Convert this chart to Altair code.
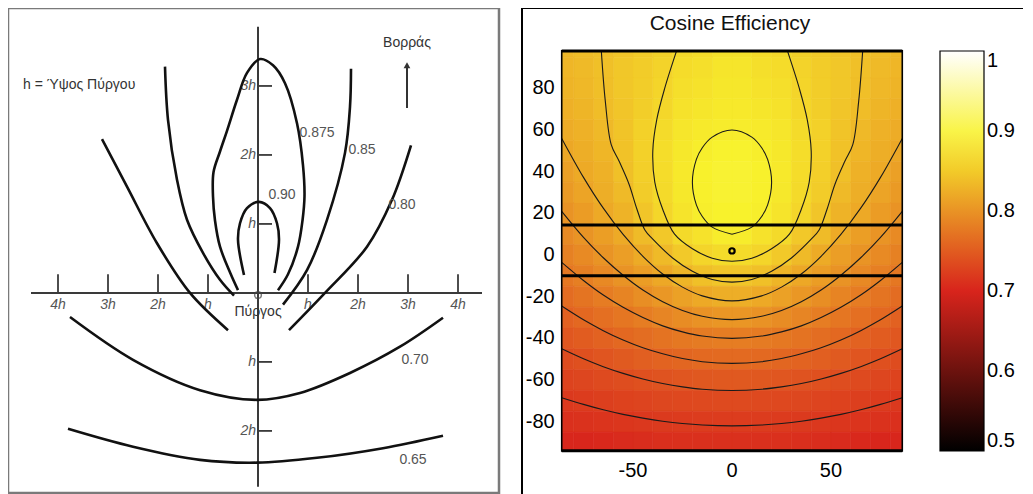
import altair as alt
import pandas as pd

FONT = "Liberation Sans"

# ================= LEFT PANEL (positions in units of tower height h) =================
x_tick_pos = [-4, -3, -2, -1, 1, 2, 3, 4]
x_tick_text = ["4h", "3h", "2h", "h", "h", "2h", "3h", "4h"]
y_tick_pos = [3, 2, 1, -1, -2]
y_tick_text = ["3h", "2h", "h", "h", "2h"]
axis_x_extent = [-4.54, 4.48]
axis_y_extent = [-2.81, 3.86]

curve_090 = [(-0.28, 0.26), (-0.40, 0.77), (-0.36, 1.01), (-0.22, 1.23), (0.02, 1.32),
             (0.24, 1.23), (0.38, 1.01), (0.42, 0.77), (0.33, 0.29)]
curve_0875 = [(-0.40, 0.04), (-0.55, 0.28), (-0.76, 0.67), (-0.86, 1.05), (-0.90, 1.40),
              (-0.89, 1.75), (-0.76, 2.05), (-0.62, 2.35), (-0.42, 2.80), (-0.22, 3.19),
              (0.04, 3.39), (0.30, 3.30), (0.54, 3.04), (0.78, 2.46), (0.90, 1.85),
              (0.93, 1.40), (0.89, 1.05), (0.80, 0.67), (0.60, 0.27), (0.40, 0.04)]
curve_085_left = [(-1.86, 3.28), (-1.80, 2.51), (-1.62, 1.64), (-1.42, 1.06),
                  (-1.10, 0.58), (-0.76, 0.19), (-0.48, -0.04)]
curve_085_right = [(0.50, -0.17), (0.98, 0.33), (1.38, 1.06), (1.74, 2.03),
                   (1.84, 2.70), (1.86, 3.25)]
curve_080_left = [(-3.12, 2.23), (-2.62, 1.54), (-2.02, 0.72), (-1.36, 0.0), (-0.60, -0.54)]
curve_080_right = [(0.62, -0.54), (1.34, 0.0), (2.18, 0.67), (2.68, 1.35), (3.06, 2.14)]
curve_070 = [(-3.76, -0.35), (-2.50, -0.97), (-1.16, -1.41), (-0.02, -1.55), (0.84, -1.45),
             (1.84, -1.16), (2.84, -0.78), (3.70, -0.36)]
curve_065 = [(-3.80, -1.97), (-2.50, -2.23), (-1.16, -2.42), (-0.02, -2.46), (1.18, -2.39),
             (2.50, -2.25), (3.70, -2.07)]

curve_label_text = ["0.90", "0.875", "0.85", "0.80", "0.70", "0.65"]
curve_label_x = [0.48, 1.18, 2.08, 2.88, 3.14, 3.10]
curve_label_y = [1.42, 2.32, 2.07, 1.28, -0.97, -2.42]

legend_text = ["h = Ύψος Πύργου"]
legend_pos = (-4.70, 3.01)
tower_text = ["Πύργος"]
tower_pos = (0.0, -0.03)
tower_label_pos = (0.0, -0.28)
north_text = ["Βορράς"]
north_pos = (2.98, 3.62)
north_arrow = (2.98, 2.68, 3.30)

# ================= RIGHT PANEL: cosine efficiency field (symmetric in x) =================
heat_x_extent = [-86, 86]
heat_y_extent = [-94, 98]
cell_x = [5, 15, 25, 35, 45, 55, 65, 75, 85]
cell_y = [100, 90, 80, 70, 60, 50, 40, 30, 20, 10, 0, -10, -20, -30, -40, -50, -60, -70, -80, -90]
eff_x05 = [0.870, 0.873, 0.875, 0.877, 0.880, 0.886, 0.889, 0.888, 0.885, 0.8795, 0.864, 0.845, 0.824, 0.802, 0.780, 0.763, 0.748, 0.734, 0.722, 0.711]
eff_x15 = [0.865, 0.868, 0.871, 0.874, 0.8775, 0.881, 0.884, 0.883, 0.881, 0.8706, 0.859, 0.840, 0.819, 0.799, 0.778, 0.762, 0.747, 0.7335, 0.722, 0.711]
eff_x25 = [0.862, 0.865, 0.868, 0.871, 0.874, 0.876, 0.877, 0.876, 0.872, 0.8635, 0.8485, 0.830, 0.812, 0.7934, 0.775, 0.7596, 0.745, 0.732, 0.721, 0.711]
eff_x35 = [0.855, 0.857, 0.859, 0.861, 0.864, 0.866, 0.865, 0.863, 0.8595, 0.8475, 0.835, 0.8186, 0.8036, 0.787, 0.771, 0.7564, 0.742, 0.731, 0.720, 0.7095]
eff_x45 = [0.850, 0.851, 0.852, 0.853, 0.855, 0.855, 0.854, 0.851, 0.845, 0.8356, 0.8209, 0.8084, 0.795, 0.780, 0.766, 0.7527, 0.7395, 0.729, 0.7183, 0.708]
eff_x55 = [0.845, 0.846, 0.846, 0.845, 0.844, 0.842, 0.840, 0.835, 0.828, 0.820, 0.810, 0.7997, 0.7866, 0.7738, 0.761, 0.7485, 0.7368, 0.7266, 0.7165, 0.706]
eff_x65 = [0.8405, 0.840, 0.839, 0.837, 0.834, 0.831, 0.827, 0.824, 0.8194, 0.8095, 0.801, 0.7903, 0.7791, 0.7674, 0.7557, 0.7442, 0.7338, 0.7242, 0.7145, 0.704]
eff_x75 = [0.837, 0.835, 0.833, 0.830, 0.827, 0.824, 0.8205, 0.815, 0.808, 0.801, 0.7918, 0.7821, 0.7717, 0.7612, 0.7505, 0.7398, 0.7307, 0.7216, 0.7125, 0.702]
eff_x85 = [0.833, 0.831, 0.829, 0.826, 0.8225, 0.8175, 0.8117, 0.806, 0.800, 0.7919, 0.7836, 0.7745, 0.765, 0.7552, 0.7454, 0.7361, 0.7276, 0.719, 0.711, 0.702]
eff_columns = [eff_x05, eff_x15, eff_x25, eff_x35, eff_x45, eff_x55, eff_x65, eff_x75, eff_x85]

# contour lines (right half; mirrored about x = 0)
contour_088 = [(0, 10), (10, 13.4), (15, 18.5), (18, 24.1), (20, 35), (18, 45.9), (15, 51.5), (10, 56.6), (0, 60)]
contour_086 = [(0, -3), (10, -1.5), (20, 3), (29, 10), (35, 22), (39, 35), (40, 50), (38, 65), (34, 80), (28, 98)]
contour_084 = [(0, -13), (10, -11.7), (20, -7.8), (30, -1.4), (40, 7.6), (44, 12), (48, 22), (52, 34), (57, 45), (61, 53), (64, 74), (66, 98)]
contour_082 = [(0, -22), (15, -19.6), (25, -15.4), (35, -9.1), (45, -0.6), (55, 9.9), (65, 22.5), (75, 37.3), (86, 56)]
contour_080 = [(0, -31), (15, -29.4), (25, -26.6), (35, -22.4), (45, -16.8), (55, -9.7), (65, -1.3), (75, 8.5), (86, 21)]
contour_078 = [(0, -40), (15, -38.9), (25, -36.9), (35, -34), (45, -30), (55, -25.1), (65, -19.2), (75, -12.2), (86, -3.5)]
contour_076 = [(0, -52), (15, -51.2), (25, -49.7), (35, -47.4), (45, -44.5), (55, -40.8), (65, -36.3), (75, -31.1), (86, -24.5)]
contour_074 = [(0, -65), (15, -64.4), (25, -63.3), (35, -61.7), (45, -59.5), (55, -56.8), (65, -53.6), (75, -49.8), (86, -45)]
contour_072 = [(0, -82), (15, -81.6), (25, -80.9), (35, -79.8), (45, -78.3), (55, -76.5), (65, -74.3), (75, -71.7), (86, -68.5)]

band_lines_y = [14.4, -10]
tower_xy = (0, 2)
x_axis_values = [-50, 0, 50]
y_axis_values = [80, 60, 40, 20, 0, -20, -40, -60, -80]
colorbar_ticks = [0.5, 0.6, 0.7, 0.8, 0.9, 1.0]
hot_stops = [0.5, 0.70, 0.885, 1.0]
hot_colors = ["#000000", "#d8241c", "#f8f22c", "#ffffff"]
title_text = ["Cosine Efficiency"]

# ---------------------------------------------------------------------------
def curve_df(name, pts):
    return pd.DataFrame({"x": [p[0] for p in pts], "y": [p[1] for p in pts],
                         "o": list(range(len(pts))), "c": name})


one = pd.DataFrame({"k": [0]})

# ----------------------- left chart -----------------------
LW, LH = 491, 485
xs_l = alt.Scale(domain=[-5.0, 4.82], nice=False, zero=False)
ys_l = alt.Scale(domain=[-2.90, 4.13], nice=False, zero=False)
XL = lambda f="x": alt.X(f"{f}:Q", scale=xs_l, axis=None)
YL = lambda f="y": alt.Y(f"{f}:Q", scale=ys_l, axis=None)

frame_l = alt.Chart(one).mark_rect(filled=False, stroke="#7a7a7a", strokeWidth=2.5).encode(
    x=alt.value(0), x2=alt.value(LW), y=alt.value(0), y2=alt.value(LH))

axes_df = pd.DataFrame({"x": [axis_x_extent[0], 0], "x2": [axis_x_extent[1], 0],
                        "y": [0, axis_y_extent[0]], "y2": [0, axis_y_extent[1]]})
axes_l = alt.Chart(axes_df).mark_rule(color="#3a3a3a", strokeWidth=2).encode(
    x=XL(), x2="x2:Q", y=YL(), y2="y2:Q")

xt_df = pd.DataFrame({"x": x_tick_pos, "y": [0] * len(x_tick_pos), "y2": [0.27] * len(x_tick_pos),
                      "t": x_tick_text, "ly": [-0.17] * len(x_tick_pos)})
yt_df = pd.DataFrame({"y": y_tick_pos, "x": [0] * len(y_tick_pos), "x2": [0.28] * len(y_tick_pos),
                      "t": y_tick_text, "lx": [-0.04] * len(y_tick_pos)})
xticks_l = alt.Chart(xt_df).mark_rule(color="#3a3a3a", strokeWidth=1.8).encode(x=XL(), y=YL(), y2="y2:Q")
yticks_l = alt.Chart(yt_df).mark_rule(color="#3a3a3a", strokeWidth=1.8).encode(y=YL(), x=XL(), x2="x2:Q")
xlab_l = alt.Chart(xt_df).mark_text(font=FONT, fontSize=14, fontStyle="italic", color="#555").encode(
    x=XL(), y=YL("ly"), text="t:N")
ylab_l = alt.Chart(yt_df).mark_text(font=FONT, fontSize=14, fontStyle="italic", color="#555",
                                     align="right").encode(x=XL("lx"), y=YL(), text="t:N")

curves = pd.concat([
    curve_df("c090", curve_090), curve_df("c0875", curve_0875),
    curve_df("c085l", curve_085_left), curve_df("c085r", curve_085_right),
    curve_df("c080l", curve_080_left), curve_df("c080r", curve_080_right),
    curve_df("c070", curve_070), curve_df("c065", curve_065)], ignore_index=True)
curves_l = alt.Chart(curves).mark_line(color="#111", strokeWidth=2.6, interpolate="catmull-rom").encode(
    x=XL(), y=YL(), detail="c:N", order="o:Q")

cl_df = pd.DataFrame({"x": curve_label_x, "y": curve_label_y, "t": curve_label_text})
clab_l = alt.Chart(cl_df).mark_text(font=FONT, fontSize=14, color="#555").encode(x=XL(), y=YL(), text="t:N")

leg_df = pd.DataFrame({"x": [legend_pos[0]], "y": [legend_pos[1]], "t": legend_text})
leg_l = alt.Chart(leg_df).mark_text(font=FONT, fontSize=14, color="#333", align="left").encode(
    x=XL(), y=YL(), text="t:N")

tw_df = pd.DataFrame({"x": [tower_pos[0]], "y": [tower_pos[1]]})
tower_l = alt.Chart(tw_df).mark_point(shape="circle", filled=False, size=45, color="#444",
                                      strokeWidth=1.5).encode(x=XL(), y=YL())
twl_df = pd.DataFrame({"x": [tower_label_pos[0]], "y": [tower_label_pos[1]], "t": tower_text})
twlab_l = alt.Chart(twl_df).mark_text(font=FONT, fontSize=14, color="#333").encode(x=XL(), y=YL(), text="t:N")

n_df = pd.DataFrame({"x": [north_pos[0]], "y": [north_pos[1]], "t": north_text})
north_l = alt.Chart(n_df).mark_text(font=FONT, fontSize=14, color="#333").encode(x=XL(), y=YL(), text="t:N")
na_df = pd.DataFrame({"x": [north_arrow[0]], "y": [north_arrow[1]], "y2": [north_arrow[2]]})
narrow_l = alt.Chart(na_df).mark_rule(color="#333", strokeWidth=2).encode(x=XL(), y=YL(), y2="y2:Q")
nh_df = pd.DataFrame({"x": [north_arrow[0]], "y": [north_arrow[2]]})
nhead_l = alt.Chart(nh_df).mark_point(shape="triangle-up", filled=True, size=45, color="#333",
                                      opacity=1).encode(x=XL(), y=YL())

left = alt.layer(frame_l, axes_l, xticks_l, yticks_l, xlab_l, ylab_l, curves_l, clab_l, leg_l,
                 tower_l, twlab_l, north_l, narrow_l, nhead_l).properties(width=LW, height=LH)

# ----------------------- right chart (whole framed panel is the view) -----------------------
RW, RH = 501, 487
xs_r = alt.Scale(domain=[-106.06, -106.06 + RW / 1.98], nice=False, zero=False)
ys_r = alt.Scale(domain=[118.6 - RH / 2.083, 118.6], nice=False, zero=False)
XR = lambda f="x": alt.X(f"{f}:Q", scale=xs_r, axis=None)
YR = lambda f="y": alt.Y(f"{f}:Q", scale=ys_r, axis=None)
hot = alt.Scale(domain=hot_stops, range=hot_colors, interpolate="rgb")

cells = []
for xc, col in zip(cell_x, eff_columns):
    for yc, v in zip(cell_y, col):
        for s in (1, -1):
            a, b = s * (xc - 5), s * (xc + 5)
            cells.append({"x": max(min(a, b), heat_x_extent[0]), "x2": min(max(a, b), heat_x_extent[1]),
                          "y": max(yc - 5, heat_y_extent[0]), "y2": min(yc + 5, heat_y_extent[1]), "v": v})
cells = pd.DataFrame(cells)

heat = alt.Chart(cells).mark_rect(strokeWidth=0.6).encode(
    x=XR(), x2="x2:Q", y=YR(), y2="y2:Q",
    color=alt.Color("v:Q", scale=hot, legend=alt.Legend(
        orient="none", legendX=418, legendY=43, direction="vertical", title=None,
        gradientLength=400, gradientThickness=44, values=colorbar_ticks, format=".1~f",
        labelFontSize=20, labelFont=FONT, labelColor="black", labelOffset=3,
        labelOverlap=False, gradientStrokeColor="black", gradientStrokeWidth=1.2)),
    stroke=alt.Stroke("v:Q", scale=hot, legend=None))


def mirrored(half, closed):
    if closed:
        return half + [(-x, y) for (x, y) in reversed(half[:-1])]
    return [(-x, y) for (x, y) in reversed(half[1:])] + half


cont = pd.concat([
    curve_df("k088", mirrored(contour_088, True)),
    curve_df("k086", mirrored(contour_086, False)),
    curve_df("k084", mirrored(contour_084, False)),
    curve_df("k082", mirrored(contour_082, False)),
    curve_df("k080", mirrored(contour_080, False)),
    curve_df("k078", mirrored(contour_078, False)),
    curve_df("k076", mirrored(contour_076, False)),
    curve_df("k074", mirrored(contour_074, False)),
    curve_df("k072", mirrored(contour_072, False))], ignore_index=True)
cont_r = alt.Chart(cont).mark_line(color="#1a1a1a", strokeWidth=1.1,
                                   interpolate="catmull-rom").encode(
    x=XR(), y=YR(), detail="c:N", order="o:Q")

bands_df = pd.DataFrame({"y": band_lines_y, "x": [heat_x_extent[0]] * 2, "x2": [heat_x_extent[1]] * 2})
bands = alt.Chart(bands_df).mark_rule(color="black", strokeWidth=3).encode(x=XR(), x2="x2:Q", y=YR())
tw_r = alt.Chart(pd.DataFrame({"x": [tower_xy[0]], "y": [tower_xy[1]]})).mark_point(
    shape="circle", filled=False, size=28, strokeWidth=2.2, color="black", opacity=1).encode(x=XR(), y=YR())

hf_df = pd.DataFrame({"x": [heat_x_extent[0]], "x2": [heat_x_extent[1]],
                      "y": [heat_y_extent[0]], "y2": [heat_y_extent[1]]})
hframe = alt.Chart(hf_df).mark_rect(filled=False, stroke="black", strokeWidth=1.6).encode(
    x=XR(), x2="x2:Q", y=YR(), y2="y2:Q")
hedges_df = pd.DataFrame({"y": heat_y_extent, "x": [heat_x_extent[0]] * 2, "x2": [heat_x_extent[1]] * 2})
hedges = alt.Chart(hedges_df).mark_rule(color="black", strokeWidth=3).encode(x=XR(), x2="x2:Q", y=YR())

yl_df = pd.DataFrame({"y": y_axis_values, "x": [heat_x_extent[0]] * len(y_axis_values),
                      "t": [str(v) for v in y_axis_values]})
ylab_r = alt.Chart(yl_df).mark_text(font=FONT, fontSize=20, color="black", align="right",
                                    baseline="middle", dx=-7).encode(x=XR(), y=YR(), text="t:N")
xl_df = pd.DataFrame({"x": x_axis_values, "y": [heat_y_extent[0]] * len(x_axis_values),
                      "t": [str(v) for v in x_axis_values]})
xlab_r = alt.Chart(xl_df).mark_text(font=FONT, fontSize=20, color="black", baseline="middle",
                                    dy=20).encode(x=XR(), y=YR(), text="t:N")

pframe_l = alt.Chart(one).mark_rule(color="black", strokeWidth=2).encode(
    x=alt.value(0), y=alt.value(0), y2=alt.value(RH))
pframe_t = alt.Chart(one).mark_rule(color="black", strokeWidth=2).encode(
    x=alt.value(0), x2=alt.value(RW), y=alt.value(0))
title_r = alt.Chart(pd.DataFrame({"t": title_text})).mark_text(
    font=FONT, fontSize=21, color="#111").encode(x=alt.value(208), y=alt.value(16), text="t:N")

right = alt.layer(heat, cont_r, bands, tw_r, hframe, hedges, ylab_r, xlab_r,
                  pframe_l, pframe_t, title_r).properties(width=RW, height=RH)

chart = alt.hconcat(left, right, spacing=20).resolve_legend(color="independent").properties(
    padding={"left": -2, "top": -2, "right": 0, "bottom": 0}).configure_view(stroke=None)

chart.save("out.html", embed_options={"renderer": "svg", "actions": False})
